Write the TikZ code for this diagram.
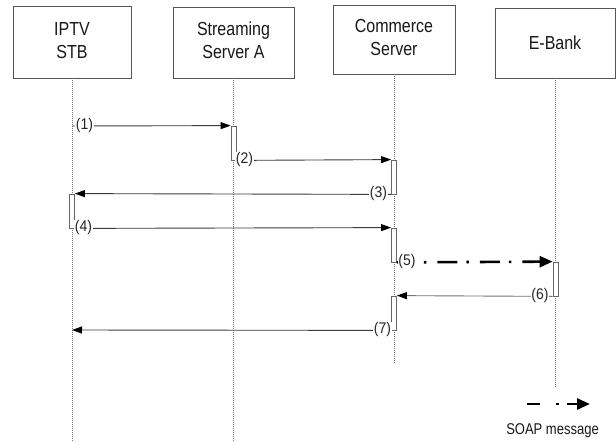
\documentclass[tikz,border=0pt]{standalone}
\usepackage{fontspec}
\setmainfont{Liberation Sans}
\usetikzlibrary{arrows.meta}
\definecolor{ln}{HTML}{3C3C3C}
\definecolor{bx}{HTML}{555555}
\newcommand\vstretch[2]{\scalebox{1}[#1]{#2}}
\begin{document}
\begin{tikzpicture}[x=1pt,y=-1pt]
\tikzset{
 actorbox/.style={draw=bx,line width=0.9pt,fill=white,inner sep=0pt,align=center,font=\fontsize{16}{19.5}\selectfont,text=black!90},
 lifeline/.style={draw=black!55,line width=0.6pt,dash pattern=on 1pt off 1pt},
 actbox/.style={draw=black!60,line width=0.8pt,fill=white,minimum width=5pt,minimum height=34pt,inner sep=0pt},
 msg/.style={draw=ln,line width=0.9pt,-{Triangle[length=10pt,width=7pt,color=black]}},
 soap/.style={draw=black,line width=2.6pt,-{Triangle[length=13pt,width=11pt]}},
 lbl/.style={fill=white,inner sep=0.8pt,font=\fontsize{14}{16}\selectfont,text=black!85},
 legendtxt/.style={inner sep=0pt,font=\fontsize{13}{15}\selectfont,text=black!90}
}
\useasboundingbox (0,0) rectangle (616,442);
\fill[white] (0,0) rectangle (616,442);

% actors
\node[actorbox,minimum width=118pt,minimum height=72pt] (stb) at (72,42)
  {\vstretch{1.18}{\begin{tabular}{@{}c@{}}IPTV\\STB\end{tabular}}};
\node[actorbox,minimum width=121pt,minimum height=71pt] (ssa) at (233.5,42.5)
  {\vstretch{1.18}{\begin{tabular}{@{}c@{}}Streaming\\Server A\end{tabular}}};
\node[actorbox,minimum width=122pt,minimum height=69pt] (cs) at (394,39.5)
  {\vstretch{1.18}{\begin{tabular}{@{}c@{}}Commerce\\Server\end{tabular}}};
\node[actorbox,minimum width=120pt,minimum height=70pt] (eb) at (555,43)
  {\vstretch{1.18}{E-Bank}};

% lifelines
\coordinate (stbend) at (72,442);
\coordinate (ssaend) at (233.5,442);
\coordinate (csend) at (394,364);
\coordinate (ebend) at (555,388);
\draw[lifeline] (stb.south) -- (stbend);
\draw[lifeline] (ssa.south) -- (ssaend);
\draw[lifeline] (cs.south) -- (csend);
\draw[lifeline] (eb.south) -- (ebend);

% activations
\node[actbox] (aS) at (233.5,143) {};
\node[actbox] (aC1) at (394,177) {};
\node[actbox] (aI) at (72,211) {};
\node[actbox] (aC2) at (394,245) {};
\node[actbox] (aE) at (555.5,279) {};
\node[actbox] (aC3) at (394,313) {};

% messages
\coordinate (m1s) at (72,126);
\coordinate (m7e) at (72,330);
\draw[msg] (m1s) -- (aS.north west);
\draw[msg] (aS.south east) -- (aC1.north west);
\draw[msg] (aC1.south west) -- (aI.north east);
\draw[msg] (aI.south east) -- (aC2.north west);
\draw[soap,dash pattern=on 20pt off 9pt on 2.5pt off 11pt,dash phase=2pt] (aC2.south east) -- (aE.north west);
\draw[msg,draw=black!55] (aE.south west) -- (aC3.north east);
\draw[msg] (aC3.south west) -- (m7e);

% labels
\node[lbl] (l1) at (84.5,126) {\vstretch{1.1}{(1)}};
\node[lbl] (l2) at (244.5,160) {\vstretch{1.1}{(2)}};
\node[lbl] (l3) at (378.5,194) {\vstretch{1.1}{(3)}};
\node[lbl] (l4) at (83.5,228) {\vstretch{1.1}{(4)}};
\node[lbl] (l5) at (407,262) {\vstretch{1.1}{(5)}};
\node[lbl] (l6) at (540,296) {\vstretch{1.1}{(6)}};
\node[lbl] (l7) at (382.5,330) {\vstretch{1.1}{(7)}};

% legend
\coordinate (lg1) at (527,404);
\coordinate (lg2) at (590,404);
\draw[soap,dash pattern=on 13pt off 16pt on 2.5pt off 8.5pt on 40pt off 1pt] (lg1) -- (lg2);
\node[legendtxt] (lgt) at (552.5,431) {\vstretch{1.2}{SOAP message}};
\end{tikzpicture}
\end{document}
